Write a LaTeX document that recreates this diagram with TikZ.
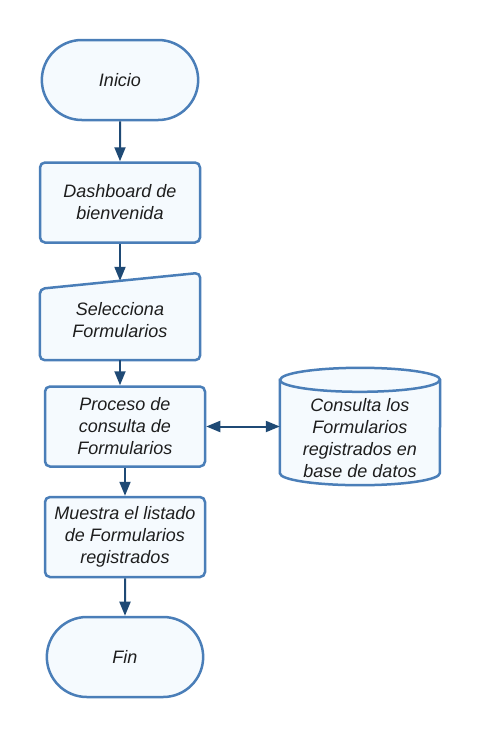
\documentclass[tikz,border=0pt]{standalone}
\usepackage{fontspec}
\setmainfont{Liberation Sans}
\usepackage{xcolor}
\usetikzlibrary{shapes.misc,arrows.meta,positioning,calc}

\definecolor{boxline}{HTML}{4A7EB8}
\definecolor{boxfill}{HTML}{F5FAFE}
\definecolor{arrowline}{HTML}{1F4A75}
\definecolor{textcol}{HTML}{1E1E1E}

\begin{document}
\begin{tikzpicture}[
    x=1pt, y=-1pt,
    every node/.style={
        font=\fontsize{18}{22}\selectfont\itshape,
        text=textcol,
        align=center
    },
    terminal/.style={
        rounded rectangle,
        draw=boxline,
        line width=2.5pt,
        fill=boxfill,
        minimum width=160pt,
        minimum height=80pt,
        rounded rectangle arc length=180
    },
    block/.style={
        rectangle,
        draw=boxline,
        line width=2.5pt,
        fill=boxfill,
        rounded corners=5pt,
        minimum width=160pt,
        minimum height=80pt
    },
    outline/.style={
        draw=boxline,
        line width=2.5pt,
        fill=boxfill,
        rounded corners=5pt
    },
    iobox/.style={
        rectangle,
        minimum width=160pt,
        minimum height=79pt
    },
    store/.style={
        rectangle,
        minimum width=160pt,
        minimum height=93pt
    },
    line/.style={
        draw=arrowline, line width=2pt,
        -{Triangle[length=14pt,width=11pt]}
    },
    both/.style={
        draw=arrowline, line width=2pt,
        {Triangle[length=14pt,width=11pt]}-{Triangle[length=14pt,width=11pt]}
    }
]
    \useasboundingbox (0,0) rectangle (480,737);

    % Nodes
    \node [terminal, minimum width=163pt] (inicio) at (120,80) {Inicio};
    \node [block] (dash) at (120,202.5) {Dashboard de\\bienvenida};
    \node [iobox] (sel) at (120,320.5) {};
    \draw [outline] (sel.south west) -- ([yshift=-8pt]sel.north west)
        -- ([yshift=8pt]sel.north east) -- (sel.south east) -- cycle;
    \node [iobox] at (sel.center) {Selecciona\\Formularios};
    \node [block] (proc) at (125,426.5) {Proceso de\\consulta de\\Formularios};
    \node [store] (db) at (360,438.5) {};
    \draw [outline, rounded corners=0pt] ([yshift=12pt]db.north west)
        -- ([yshift=12pt]db.south west)
        arc [start angle=180, end angle=360, x radius=80pt, y radius=12pt]
        -- ([yshift=12pt]db.north east)
        arc [start angle=0, end angle=180, x radius=80pt, y radius=12pt]
        -- cycle;
    \draw [boxline, line width=2.5pt] ([yshift=12pt]db.north west)
        arc [start angle=180, end angle=360, x radius=80pt, y radius=12pt];
    \node [store] at (db.center) {Consulta los\\Formularios\\registrados en\\base de datos};
    \node [block] (lista) at (125,537) {Muestra el listado\\de Formularios\\registrados};
    \node [terminal, minimum width=163pt] (fin) at (125,657) {Fin};

    % Edges
    \path [line] (inicio) -- (dash);
    \path [line] (dash) -- (sel.north);
    \path [line] (sel.south) -- (sel.south |- proc.north);
    \path [both] (proc.east) -- (proc.east -| db.west);
    \path [line] (proc) -- (lista);
    \path [line] (lista) -- (fin);

\end{tikzpicture}
\end{document}
